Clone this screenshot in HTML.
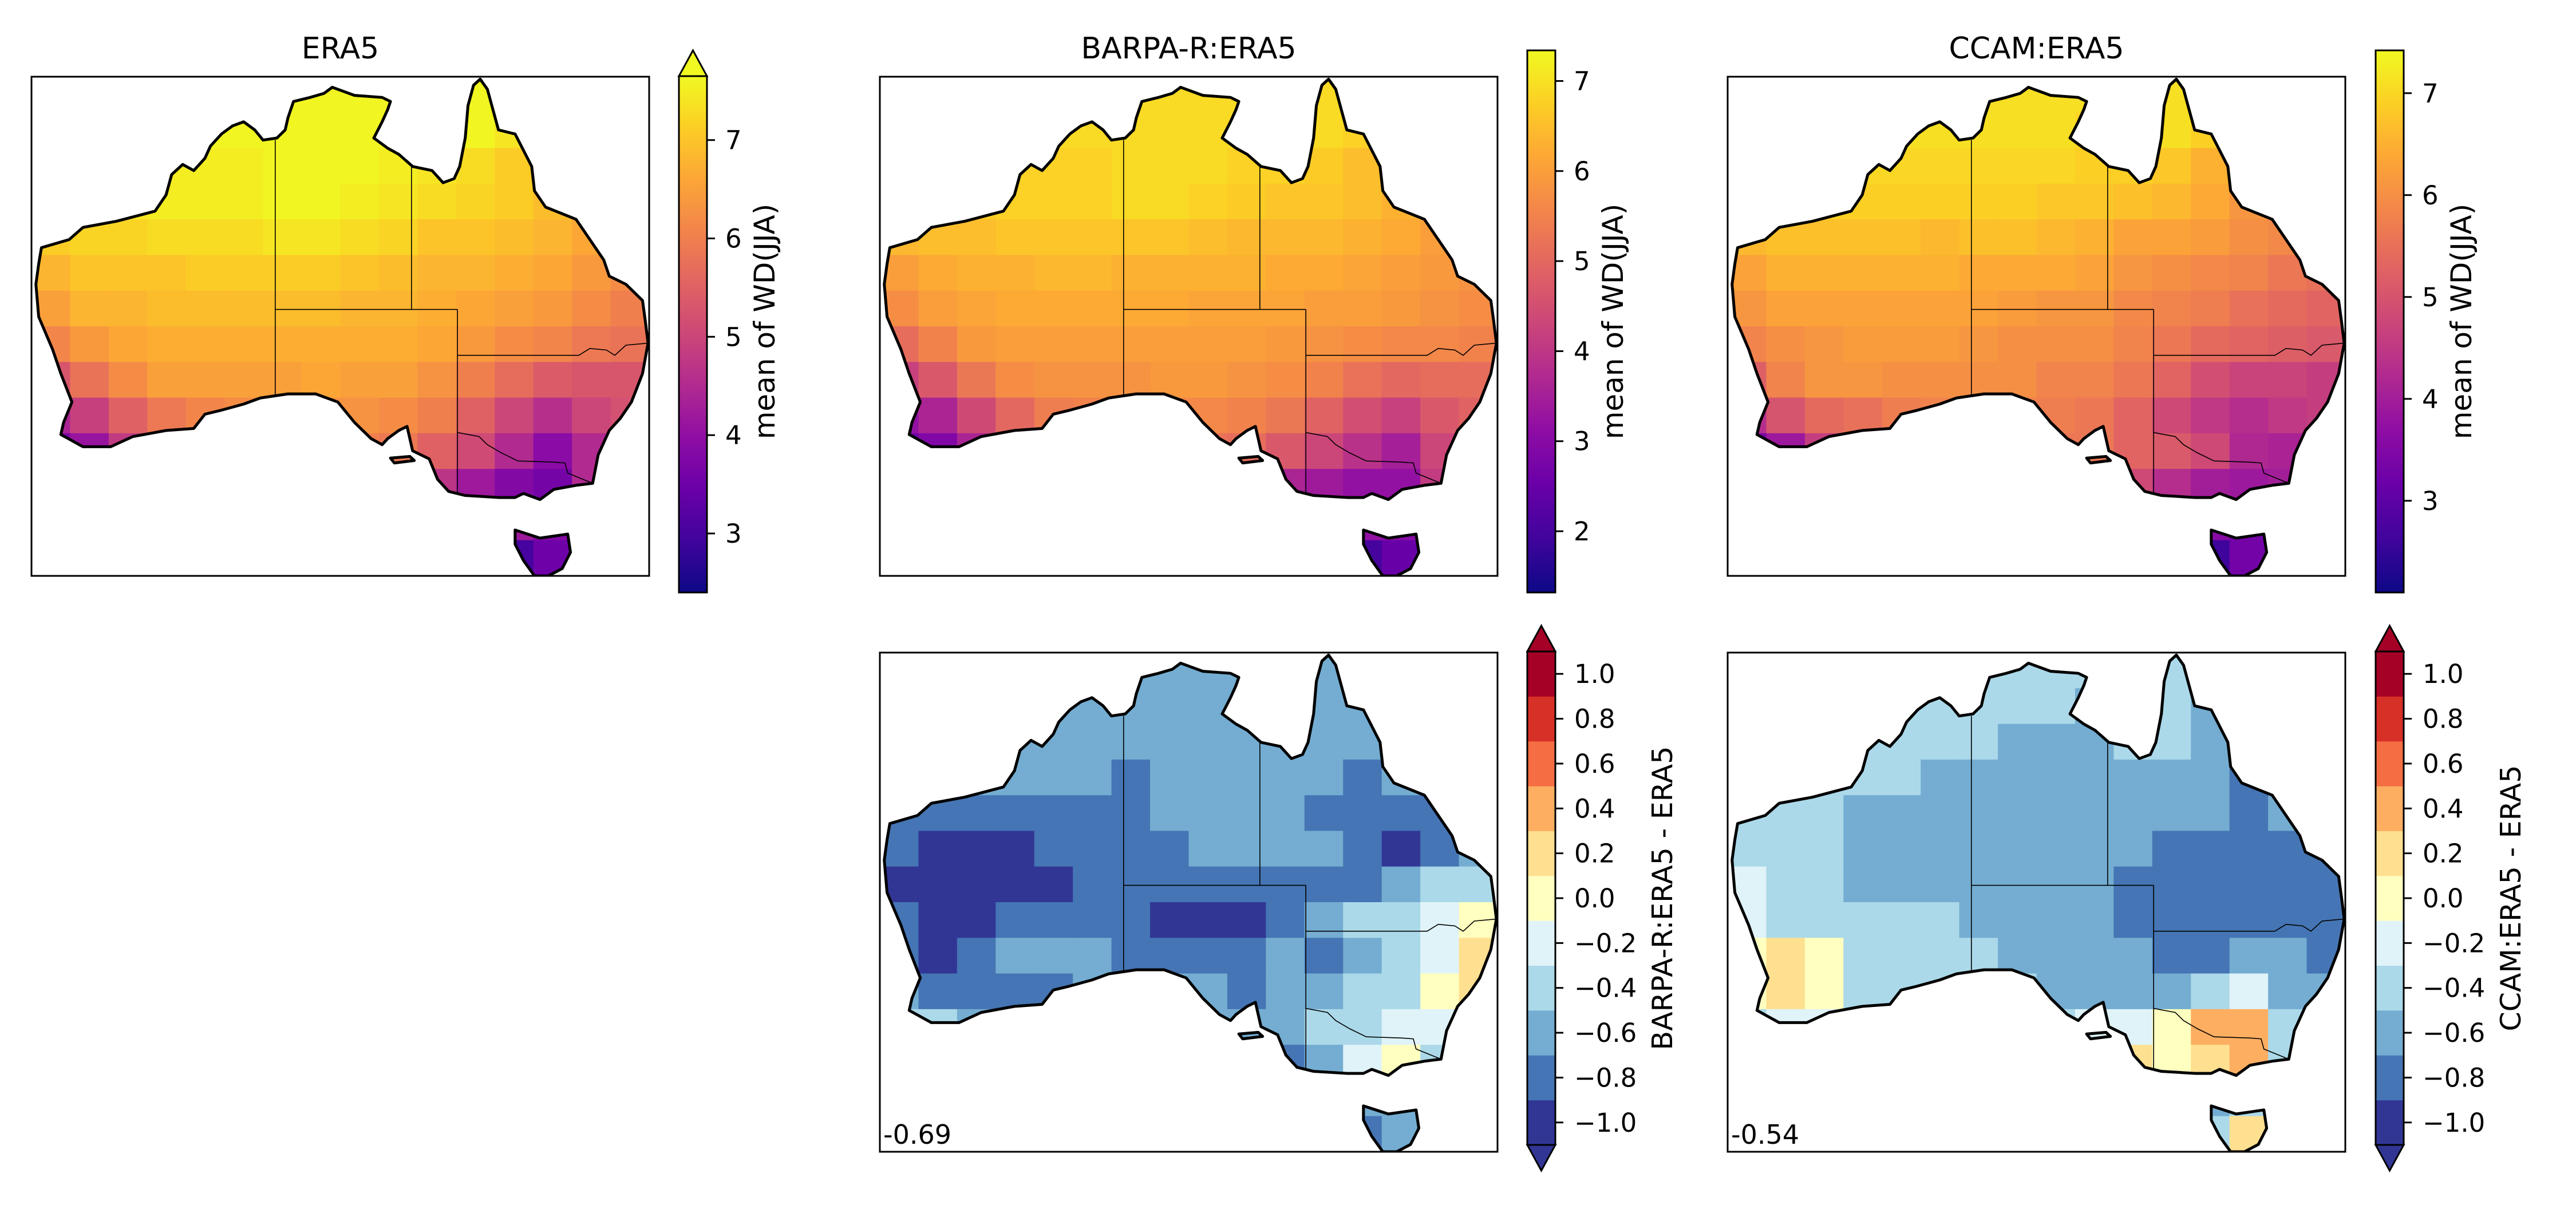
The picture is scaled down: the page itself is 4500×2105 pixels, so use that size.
<!DOCTYPE html>
<html><head><meta charset="utf-8">
<style>
html,body{margin:0;padding:0;background:#fff;}
svg text{font-family:"DejaVu Sans","Liberation Sans",sans-serif;fill:#000;}
</style></head>
<body>
<svg id="fig" xmlns="http://www.w3.org/2000/svg" width="4500" height="2100" viewBox="0 0 4500 2100">
<defs>
<linearGradient id="plasmaGrad" x1="0" y1="1" x2="0" y2="0">
<stop offset="0" stop-color="#0d0887"/><stop offset="0.1" stop-color="#41049d"/><stop offset="0.2" stop-color="#6a00a8"/><stop offset="0.3" stop-color="#8f0da4"/><stop offset="0.4" stop-color="#b12a90"/><stop offset="0.5" stop-color="#cc4778"/><stop offset="0.6" stop-color="#e16462"/><stop offset="0.7" stop-color="#f2844b"/><stop offset="0.8" stop-color="#fca636"/><stop offset="0.9" stop-color="#fcce25"/><stop offset="1" stop-color="#f0f921"/>
</linearGradient>
</defs>
</svg>
<script>
// ---------- DATA ----------
const era5Rows = [
[7.6,7.6,7.6,7.6,7.6,7.6,7.6,7.6,7.6,7.6,7.6,7.6,7.6,7.6,7.6,7.6],
[7.6,7.6,7.6,7.6,7.6,7.6,7.6,7.6,7.6,7.6,7.6,7.6,7.4,7.2,7.2,7.2],
[7.5,7.5,7.5,7.5,7.5,7.5,7.6,7.6,7.6,7.5,7.4,7.3,7.1,6.9,6.8,6.8],
[7.4,7.4,7.4,7.5,7.5,7.5,7.6,7.6,7.5,7.4,7.3,7.2,7.1,6.9,6.7,6.7],
[7.1,7.2,7.2,7.3,7.3,7.3,7.4,7.4,7.3,7.2,7.0,7.0,6.9,6.8,6.6,6.4],
[6.8,7.0,7.0,7.0,7.1,7.1,7.1,7.1,7.0,6.9,6.8,6.8,6.7,6.6,6.4,6.2],
[6.5,6.8,6.8,6.9,6.9,6.9,6.9,6.9,6.8,6.8,6.7,6.6,6.5,6.4,6.2,6.0],
[6.1,6.4,6.6,6.7,6.7,6.7,6.7,6.7,6.7,6.7,6.6,6.4,6.2,6.1,5.9,5.8],
[5.3,5.8,6.2,6.5,6.5,6.5,6.5,6.6,6.5,6.5,6.3,6.0,5.7,5.4,5.3,5.3],
[4.4,4.9,5.5,5.9,6.1,6.2,6.2,6.3,6.3,6.2,6.0,5.5,5.0,4.6,5.0,5.2],
[3.7,4.1,4.8,5.3,5.6,5.7,5.8,5.9,6.0,5.9,5.5,5.1,4.5,3.9,4.5,5.2],
[4.0,4.0,4.3,4.6,5.0,5.2,5.3,5.4,5.4,5.1,4.7,4.2,3.8,3.6,4.5,4.7],
[3.8,3.8,3.8,3.8,3.8,3.8,3.8,3.8,3.8,3.8,3.8,3.8,4.2,3.8,3.8,3.8],
[3.2,3.2,3.2,3.2,3.2,3.2,3.2,3.2,3.2,3.2,3.2,3.2,3.0,3.5,3.2,3.2]
];
const barpaRows = [
[6.9,6.9,6.9,6.9,6.9,6.9,6.9,6.9,6.9,6.9,6.9,6.9,6.9,6.9,6.9,6.9],
[6.9,6.9,6.9,6.9,6.9,6.9,6.9,6.9,6.9,6.9,6.9,6.9,6.8,6.7,6.7,6.7],
[6.8,6.8,6.8,6.8,6.8,6.8,6.9,6.9,6.9,6.8,6.8,6.7,6.5,6.3,6.3,6.3],
[6.7,6.7,6.7,6.8,6.8,6.8,6.9,6.9,6.8,6.7,6.6,6.6,6.5,6.3,6.1,6.1],
[6.4,6.5,6.5,6.6,6.6,6.6,6.6,6.6,6.5,6.4,6.4,6.4,6.3,6.2,6.0,5.9],
[6.0,6.2,6.3,6.3,6.4,6.4,6.3,6.3,6.3,6.3,6.2,6.2,6.1,6.0,5.9,5.8],
[5.7,6.0,6.1,6.2,6.2,6.2,6.2,6.2,6.1,6.1,6.1,6.0,6.0,5.9,5.8,5.7],
[5.1,5.5,5.9,6.0,6.0,6.0,6.0,6.0,6.0,6.0,5.9,5.8,5.7,5.6,5.6,5.5],
[4.2,4.7,5.3,5.7,5.8,5.8,5.8,5.9,5.9,5.8,5.7,5.5,5.2,5.0,5.1,5.1],
[3.2,3.6,4.4,5.0,5.4,5.5,5.5,5.6,5.6,5.5,5.3,4.9,4.5,4.2,4.7,4.9],
[2.6,2.9,3.6,4.3,4.8,5.0,5.1,5.2,5.2,5.1,4.7,4.3,3.9,3.5,4.3,4.8],
[3.0,3.0,3.4,3.8,4.2,4.4,4.6,4.6,4.6,4.3,3.6,3.4,3.2,3.2,4.1,4.3],
[3.0,3.0,3.0,3.0,3.0,3.0,3.0,3.0,3.0,3.0,3.0,3.0,3.2,3.0,3.0,3.0],
[2.4,2.4,2.4,2.4,2.4,2.4,2.4,2.4,2.4,2.4,2.4,2.4,2.0,2.5,2.4,2.4]
];
const ccamRows = [
[7.1,7.1,7.1,7.1,7.1,7.1,7.1,7.1,7.1,7.1,7.1,7.1,7.1,7.1,7.1,7.1],
[7.1,7.1,7.1,7.1,7.1,7.1,7.1,7.1,7.1,7.0,7.1,7.1,6.9,6.7,6.7,6.7],
[7.0,7.0,7.0,7.0,7.0,7.0,7.0,7.0,7.0,6.9,6.9,6.8,6.5,6.3,6.3,6.3],
[6.9,6.9,6.9,6.9,6.9,6.9,6.9,6.9,6.8,6.8,6.7,6.6,6.4,6.1,6.1,6.1],
[6.6,6.7,6.7,6.7,6.7,6.6,6.7,6.7,6.6,6.5,6.3,6.3,6.2,6.0,5.9,5.8],
[6.3,6.5,6.5,6.5,6.5,6.5,6.4,6.4,6.4,6.3,6.1,6.0,5.9,5.8,5.6,5.5],
[6.1,6.3,6.3,6.3,6.3,6.3,6.3,6.2,6.1,6.1,5.9,5.8,5.7,5.5,5.4,5.3],
[5.8,6.0,6.1,6.2,6.2,6.2,6.1,6.0,6.0,6.0,5.8,5.6,5.4,5.3,5.2,5.1],
[5.2,5.8,6.1,6.1,6.0,6.0,6.0,6.0,5.8,5.8,5.6,5.3,4.9,4.7,4.7,4.6],
[4.3,5.0,5.4,5.5,5.7,5.8,5.8,5.8,5.7,5.6,5.3,4.8,4.5,4.3,4.5,4.6],
[3.4,3.9,4.6,4.9,5.2,5.3,5.5,5.6,5.6,5.6,5.3,5.1,4.8,4.2,4.1,4.7],
[3.4,3.5,3.9,4.2,4.6,4.8,4.9,5.2,5.1,5.0,4.8,4.3,4.0,3.9,4.0,4.2],
[3.3,3.3,3.3,3.3,3.3,3.3,3.3,3.3,3.3,3.3,3.3,3.3,3.6,3.3,3.3,3.3],
[2.8,2.8,2.8,2.8,2.8,2.8,2.8,2.8,2.8,2.8,2.8,2.8,2.6,3.3,2.8,2.8]
];
const barpaDiffRows = [
[-0.6,-0.6,-0.6,-0.6,-0.6,-0.6,-0.6,-0.6,-0.6,-0.6,-0.6,-0.6,-0.6,-0.5,-0.6,-0.6],
[-0.6,-0.6,-0.6,-0.6,-0.6,-0.6,-0.6,-0.7,-0.6,-0.6,-0.6,-0.6,-0.7,-0.6,-0.6,-0.6],
[-0.6,-0.6,-0.6,-0.6,-0.6,-0.6,-0.7,-0.7,-0.6,-0.7,-0.7,-0.7,-0.7,-0.8,-0.7,-0.7],
[-0.7,-0.7,-0.7,-0.7,-0.7,-0.7,-0.8,-0.7,-0.7,-0.6,-0.6,-0.6,-0.8,-0.7,-0.7,-0.7],
[-0.9,-0.9,-0.9,-0.8,-0.8,-0.8,-0.8,-0.7,-0.7,-0.6,-0.6,-0.8,-0.8,-0.8,-0.8,-0.8],
[-0.9,-1.0,-1.0,-1.0,-0.9,-0.9,-0.9,-0.8,-0.6,-0.6,-0.7,-0.7,-0.9,-1.0,-0.8,-0.7],
[-1.0,-1.1,-1.1,-1.1,-1.0,-0.9,-0.9,-0.9,-0.9,-0.9,-0.8,-0.8,-0.8,-0.7,-0.5,-0.4],
[-0.9,-1.1,-1.1,-0.9,-0.8,-0.8,-0.8,-1.0,-1.0,-1.0,-0.9,-0.7,-0.5,-0.4,-0.3,-0.1],
[-0.8,-1.0,-0.9,-0.7,-0.7,-0.7,-0.8,-0.8,-0.8,-0.9,-0.7,-0.8,-0.6,-0.4,-0.2,0.2],
[-0.6,-0.8,-0.8,-0.8,-0.8,-0.6,-0.6,-0.6,-0.7,-0.8,-0.7,-0.6,-0.5,-0.4,-0.1,0.1],
[-0.5,-0.4,-0.6,-0.6,-0.6,-0.6,-0.6,-0.6,-0.6,-0.7,-0.6,-0.5,-0.4,-0.2,-0.3,-0.3],
[-0.6,-0.6,-0.6,-0.6,-0.6,-0.6,-0.6,-0.6,-0.8,-0.9,-0.8,-0.6,-0.2,0.0,-0.5,-0.5],
[-0.6,-0.6,-0.6,-0.6,-0.6,-0.6,-0.6,-0.6,-0.6,-0.6,-0.6,-0.6,-0.6,-0.7,-0.6,-0.6],
[-0.9,-0.9,-0.9,-0.9,-0.9,-0.9,-0.9,-0.9,-0.9,-0.9,-0.9,-0.9,-0.9,-0.6,-0.9,-0.9]
];
const ccamDiffRows = [
[-0.5,-0.5,-0.5,-0.5,-0.5,-0.5,-0.5,-0.5,-0.5,-0.5,-0.5,-0.5,-0.5,-0.5,-0.5,-0.5],
[-0.5,-0.5,-0.5,-0.5,-0.5,-0.5,-0.5,-0.5,-0.5,-0.6,-0.5,-0.5,-0.6,-0.5,-0.5,-0.5],
[-0.5,-0.5,-0.5,-0.5,-0.5,-0.5,-0.5,-0.6,-0.6,-0.6,-0.5,-0.5,-0.7,-0.8,-0.8,-0.8],
[-0.4,-0.5,-0.5,-0.5,-0.5,-0.6,-0.6,-0.7,-0.6,-0.6,-0.6,-0.7,-0.7,-0.8,-0.6,-0.6],
[-0.5,-0.5,-0.5,-0.6,-0.6,-0.7,-0.7,-0.7,-0.7,-0.6,-0.7,-0.7,-0.7,-0.8,-0.7,-0.7],
[-0.5,-0.4,-0.5,-0.6,-0.6,-0.6,-0.7,-0.7,-0.6,-0.6,-0.7,-0.8,-0.8,-0.8,-0.8,-0.8],
[-0.3,-0.5,-0.5,-0.6,-0.6,-0.6,-0.6,-0.7,-0.7,-0.7,-0.8,-0.8,-0.8,-0.9,-0.9,-0.9],
[-0.2,-0.4,-0.5,-0.5,-0.5,-0.5,-0.6,-0.7,-0.7,-0.7,-0.8,-0.8,-0.9,-0.8,-0.8,-0.9],
[-0.1,0.1,0.0,-0.4,-0.5,-0.5,-0.5,-0.6,-0.7,-0.7,-0.7,-0.8,-0.8,-0.7,-0.7,-0.8],
[-0.1,0.2,0.0,-0.4,-0.4,-0.4,-0.4,-0.5,-0.6,-0.6,-0.7,-0.7,-0.5,-0.3,-0.6,-0.7],
[-0.4,-0.2,-0.2,-0.4,-0.4,-0.4,-0.3,-0.3,-0.4,-0.3,-0.2,0.0,0.3,0.4,-0.5,-0.6],
[-0.6,-0.5,-0.4,-0.4,-0.4,-0.4,-0.4,-0.2,-0.3,-0.1,0.1,0.0,0.2,0.3,-0.5,-0.6],
[-0.5,-0.5,-0.5,-0.5,-0.5,-0.5,-0.5,-0.5,-0.5,-0.5,-0.5,-0.5,-0.6,-0.5,-0.5,-0.5],
[-0.4,-0.4,-0.4,-0.4,-0.4,-0.4,-0.4,-0.4,-0.4,-0.4,-0.4,-0.4,-0.4,0.2,-0.4,-0.4]
];
const era5Ticks = [3,4,5,6,7];
const barpaTicks = [2,3,4,5,6,7];
const ccamTicks = [3,4,5,6,7];
const diffTicks = [-1.0,-0.8,-0.6,-0.4,-0.2,0.0,0.2,0.4,0.6,0.8,1.0];
const diffBinColors = ["#313695","#4575b4","#74add1","#abd9e9","#e0f3f8","#ffffbf","#fee090","#fdae61","#f46d43","#d73027","#a50026"];
const barpaCorr = "-0.69";
const ccamCorr = "-0.54";

// ---------- GEOMETRY ----------
const NS="http://www.w3.org/2000/svg";
const fig=document.getElementById('fig');
const PW=1079, PH=872, VW=1115, VH=1229, OX=57, OY=189;
const mainland=[[75,610],[125,590],[150,560],[210,545],[280,520],[300,480],[310,430],[330,405],[350,420],[370,390],[380,360],[400,330],[420,310],[440,300],[460,320],[475,345],[500,340],[515,320],[520,290],[530,250],[560,240],[585,230],[600,215],[640,235],[690,240],[705,250],[700,270],[690,300],[675,340],[700,365],[720,380],[745,410],[780,420],[800,450],[820,440],[830,410],[840,340],[845,260],[855,210],[867,195],[880,220],[890,270],[900,320],[930,330],[945,370],[960,410],[965,470],[985,510],[1040,540],[1060,580],[1080,620],[1090,640],[1100,680],[1130,700],[1160,740],[1165,790],[1170,845],[1160,920],[1140,990],[1120,1030],[1100,1060],[1080,1120],[1070,1190],[1040,1195],[1000,1205],[975,1230],[945,1215],[930,1225],[900,1225],[840,1220],[810,1210],[790,1180],[775,1130],[745,1110],[740,1080],[735,1050],[720,1060],[700,1080],[690,1095],[670,1080],[640,1040],[610,990],[570,970],[520,970],[470,980],[440,995],[400,1010],[370,1020],[350,1055],[300,1060],[240,1075],[200,1100],[150,1100],[110,1070],[115,1040],[130,990],[110,920],[95,860],[70,780],[65,700],[70,650]];
const tasmania=[[930,1305],[975,1325],[1025,1315],[1030,1360],[1015,1400],[990,1418],[965,1418],[945,1380],[930,1340]];
const kangaroo=[[705,1128],[740,1124],[748,1134],[712,1140]];
const borders=[
 [[497,345],[497,975]],
 [[497,762],[826,762]],
 [[743,410],[743,762]],
 [[826,762],[826,1215]],
 [[826,875],[1045,875],[1065,858],[1095,862],[1110,875],[1130,850],[1170,845]],
 [[826,1065],[865,1075],[880,1095],[905,1115],[935,1135],[1000,1138],[1020,1140],[1025,1165],[1070,1190]]
];
function pts(a){return a.map(p=>(p[0]-OX)+','+(p[1]-OY)).join(' ');}
function el(tag,attrs,parent){const e=document.createElementNS(NS,tag);for(const k in attrs)e.setAttribute(k,attrs[k]);(parent||fig).appendChild(e);return e;}

const plasmaStops=["#0d0887","#41049d","#6a00a8","#8f0da4","#b12a90","#cc4778","#e16462","#f2844b","#fca636","#fcce25","#f0f921"];
function hex2rgb(h){return [parseInt(h.substr(1,2),16),parseInt(h.substr(3,2),16),parseInt(h.substr(5,2),16)];}
function plasma(t){t=Math.max(0,Math.min(1,t));const f=t*10,i=Math.min(9,Math.floor(f)),u=f-i;const a=hex2rgb(plasmaStops[i]),b=hex2rgb(plasmaStops[i+1]);return 'rgb('+a.map((v,k)=>Math.round(v+(b[k]-v)*u)).join(',')+')';}
function diffColor(v){let i=Math.floor((v+1.1)/0.2+1e-6);i=Math.max(0,Math.min(10,i));return diffBinColors[i];}

const NC=16, NR=14, CW=VW/NC, RH=VH/NR;
function xCell(c){return c*CW;}
function yCell(r){return r*RH;}

let clipId=0;
function drawMap(px,py,rows,colorFn,name){
  const s=el('svg',{x:px,y:py,width:PW,height:PH,viewBox:'0 0 '+VW+' '+VH,preserveAspectRatio:'none'});
  
  
  const id='clip'+(clipId++);
  const cp=el('clipPath',{id:id},s);
  el('polygon',{points:pts(mainland)},cp);
  el('polygon',{points:pts(tasmania)},cp);
  el('polygon',{points:pts(kangaroo)},cp);
  const g=el('g',{'clip-path':'url(#'+id+')'},s);
  rows.forEach((row,r)=>row.forEach((v,c)=>{
    const rc=el('rect',{x:xCell(c),y:yCell(r),width:CW+0.8,height:RH+0.8,fill:colorFn(v)},g);
    
    
  }));
  [mainland,tasmania,kangaroo].forEach(poly=>{
    const c=el('polygon',{points:pts(poly),fill:'none',stroke:'#000','stroke-width':5,'vector-effect':'non-scaling-stroke','stroke-linejoin':'round'},s);
    
    
  });
  borders.forEach(b=>{
    const l=el('polyline',{points:pts(b),fill:'none',stroke:'#000','stroke-width':1.6,'vector-effect':'non-scaling-stroke'},s);
    
    
  });
  const fr=el('rect',{x:px,y:py,width:PW,height:PH,fill:'none',stroke:'#000','stroke-width':3});
  
  
}
function title(px,text,name){
  const t=el('text',{x:px+PW/2,y:102,'font-size':52,'text-anchor':'middle'});
  t.textContent=text;
  
  
}
const CBW=49;
function contCbar(cx,vmin,vmax,ticks,extendTop,name){
  const top=88,bot=1035;
  const y0=extendTop?133:top;
  const yv=v=>bot-(v-vmin)/(vmax-vmin)*(bot-y0);
  if(extendTop){
    const tri=el('polygon',{points:cx+','+y0+' '+(cx+CBW/2)+','+top+' '+(cx+CBW)+','+y0,fill:plasma(1),stroke:'#000','stroke-width':3});
    
    
  }
  const r=el('rect',{x:cx,y:y0,width:CBW,height:bot-y0,fill:'url(#plasmaGrad)',stroke:'#000','stroke-width':3});
  
  
  ticks.forEach(v=>{
    const y=yv(v);
    const tk=el('line',{x1:cx+CBW,x2:cx+CBW+14,y1:y,y2:y,stroke:'#000','stroke-width':3});
    
    
    const tx=el('text',{x:cx+CBW+32,y:y+16,'font-size':45});
    tx.textContent=String(v);
    
    
  });
  const lx=cx+CBW+118, ly=(top+bot)/2;
  const lb=el('text',{x:lx,y:ly,'font-size':50,'text-anchor':'middle',transform:'rotate(-90 '+lx+' '+ly+')'});
  lb.textContent='mean of WD(JJA)';
  
  
}
function diffCbar(cx,label,name){
  const top=1138,bot=2000,vmin=-1.1,vmax=1.1;
  const yv=v=>bot-(v-vmin)/(vmax-vmin)*(bot-top);
  diffBinColors.forEach((col,i)=>{
    const lo=vmin+i*0.2;
    const r=el('rect',{x:cx,y:yv(lo+0.2),width:CBW,height:yv(lo)-yv(lo+0.2)+0.5,fill:col});
    
    
  });
  const t1=el('polygon',{points:cx+','+top+' '+(cx+CBW/2)+','+(top-45)+' '+(cx+CBW)+','+top,fill:diffBinColors[10],stroke:'#000','stroke-width':3});
  
  
  const t2=el('polygon',{points:cx+','+bot+' '+(cx+CBW/2)+','+(bot+45)+' '+(cx+CBW)+','+bot,fill:diffBinColors[0],stroke:'#000','stroke-width':3});
  
  
  const fr=el('rect',{x:cx,y:top,width:CBW,height:bot-top,fill:'none',stroke:'#000','stroke-width':3});
  
  
  diffTicks.forEach(v=>{
    const y=yv(v);
    const tk=el('line',{x1:cx+CBW,x2:cx+CBW+14,y1:y,y2:y,stroke:'#000','stroke-width':3});
    
    
    const tx=el('text',{x:cx+CBW+33,y:y+16,'font-size':45});
    tx.textContent=(v<0?'\u2212':'')+Math.abs(v).toFixed(1);
    
    
  });
  const lx=cx+CBW+204, ly=(top+bot)/2;
  const lb=el('text',{x:lx,y:ly,'font-size':49,'text-anchor':'middle',transform:'rotate(-90 '+lx+' '+ly+')'});
  lb.textContent=label;
  
  
}
function corr(px,py,text,name){
  const t=el('text',{x:px+6,y:py+PH-14,'font-size':46});
  t.textContent=text;
  
  
}

const colX=[55,1537,3018], cbX=[1186,2668,4150], rowY=[134,1140];
const pl=(mn,mx)=>v=>plasma((v-mn)/(mx-mn));

drawMap(colX[0],rowY[0],era5Rows,pl(2.4,7.65),'era5-map');
title(colX[0],'ERA5','era5-title');
contCbar(cbX[0],2.4,7.65,era5Ticks,true,'era5-colorbar');

drawMap(colX[1],rowY[0],barpaRows,pl(1.32,7.34),'barpa-map');
title(colX[1],'BARPA-R:ERA5','barpa-title');
contCbar(cbX[1],1.32,7.34,barpaTicks,false,'barpa-colorbar');

drawMap(colX[2],rowY[0],ccamRows,pl(2.1,7.42),'ccam-map');
title(colX[2],'CCAM:ERA5','ccam-title');
contCbar(cbX[2],2.1,7.42,ccamTicks,false,'ccam-colorbar');

drawMap(colX[1],rowY[1],barpaDiffRows,diffColor,'barpa-diff-map');
diffCbar(cbX[1],'BARPA-R:ERA5 - ERA5','barpa-diff-colorbar');
corr(colX[1],rowY[1],barpaCorr,'barpa-diff-stat');

drawMap(colX[2],rowY[1],ccamDiffRows,diffColor,'ccam-diff-map');
diffCbar(cbX[2],'CCAM:ERA5 - ERA5','ccam-diff-colorbar');
corr(colX[2],rowY[1],ccamCorr,'ccam-diff-stat');
</script>
</body></html>
